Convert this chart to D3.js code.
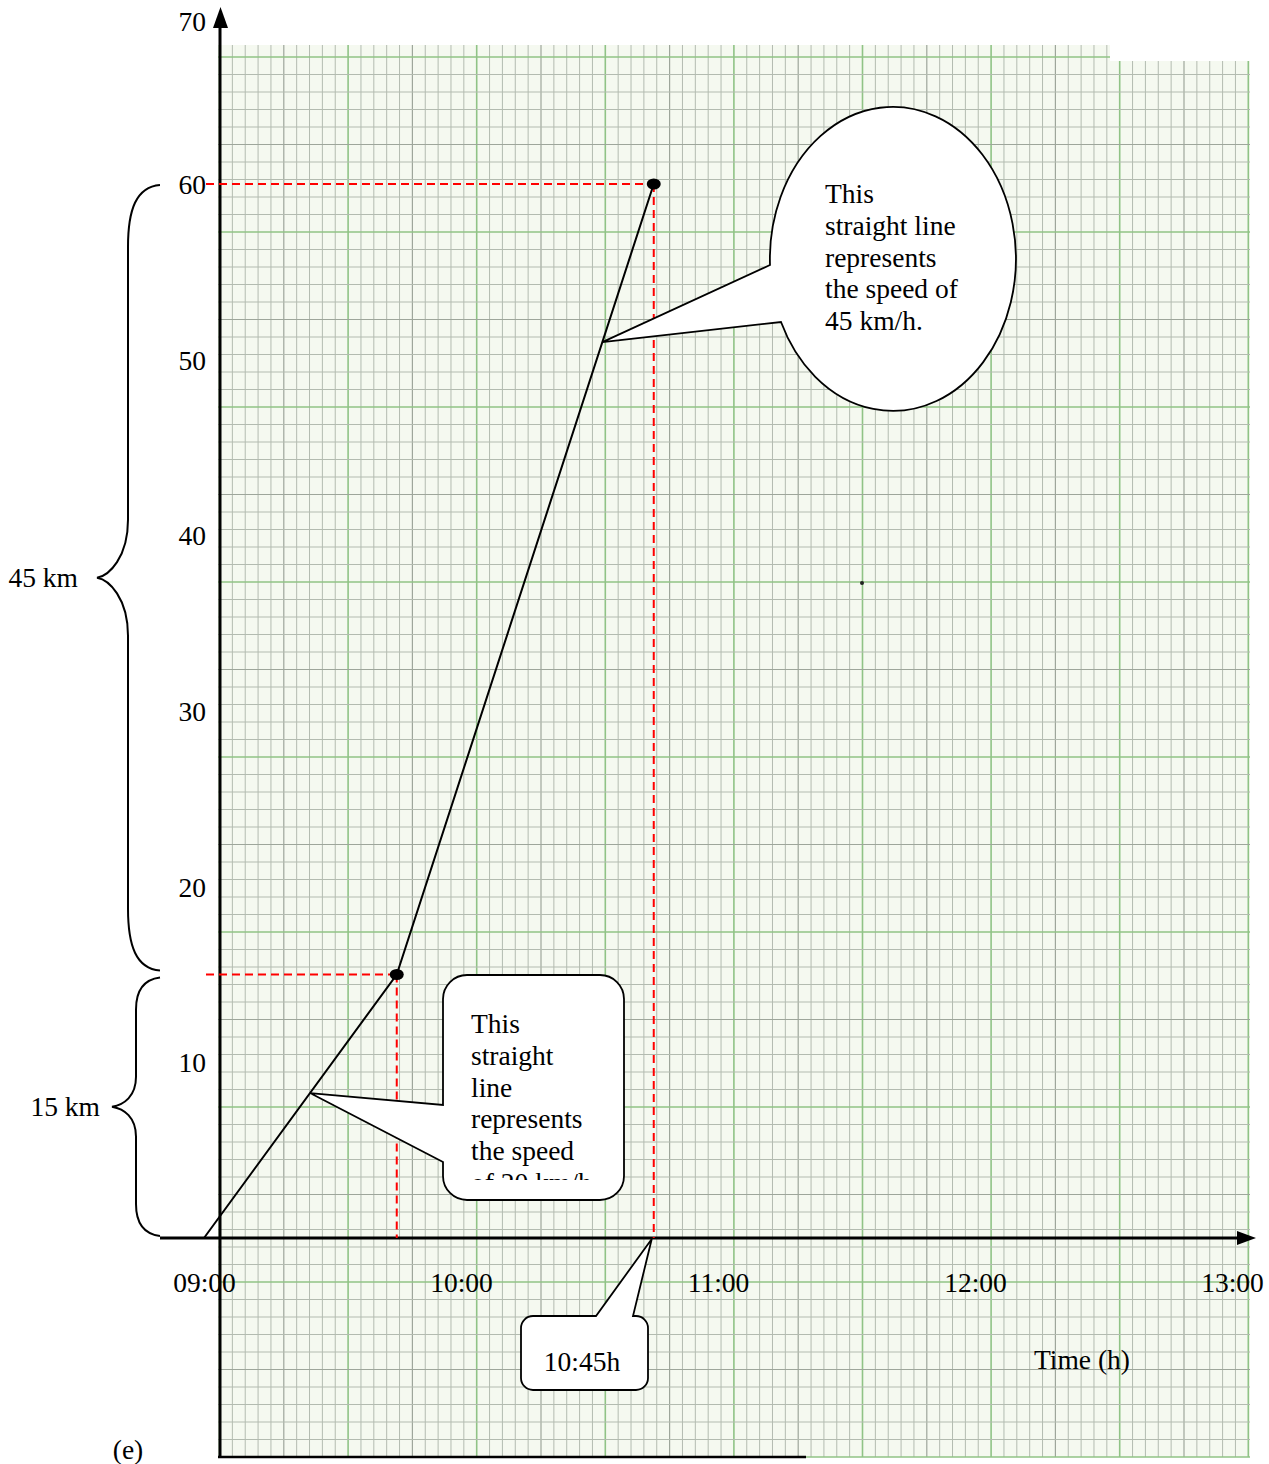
<!DOCTYPE html>
<html>
<head>
<meta charset="utf-8">
<script src="https://cdn.jsdelivr.net/npm/d3@7"></script>
<style>
body { margin: 0; background: #fff; }
svg { display: block; font-family: "Liberation Serif", "Times New Roman", serif; }
</style>
</head>
<body>
<svg id="chart"></svg>
<script>
let width = 1269;
let height = 1464;
let fontSize = 27.5;

// journey: time of day in hours, distance in km
let times = [9, 9.75, 10.75];
let distances = [0, 15, 60];
let marked = [1, 2];

let hourTicks = [9, 10, 11, 12, 13];
let hourLabels = ["09:00", "10:00", "11:00", "12:00", "13:00"];
let kmTicks = [10, 20, 30, 40, 50, 60, 70];

let braceSpans = [[15, 60], [0, 15]];
let braceLabels = ["45 km", "15 km"];

let note45 = ["This", "straight line", "represents", "the speed of", "45 km/h."];
let note20 = ["This", "straight", "line", "represents", "the speed", "of 20 km/h"];
let noteTime = "10:45h";

let xScale = d3.scaleLinear().domain([9, 13]).range([204, 1232]);
let yScale = d3.scaleLinear().domain([0, 60]).range([1238, 184]);

let pts = times.map((t, i) => [xScale(t), yScale(distances[i])]);
let lerp = (a, b, f) => [a[0] + (b[0] - a[0]) * f, a[1] + (b[1] - a[1]) * f];

let svg = d3.select("#chart")
            .attr("width", width)
            .attr("height", height)

// ---- graph paper ----
let paper = svg.append("g");
let px0 = 218, px1 = 1250, py0 = 45, py1 = 1457;
paper.append("rect")
    .attr("x", px0).attr("y", py0)
    .attr("width", px1 - px0).attr("height", py1 - py0)
    .attr("fill", "#f5f9f0")

let lineStyle = k => k % 10 == 0 ? ["#90c386", 1.6] : (k % 5 == 0 ? ["#9ea69b", 1.2] : ["#b3bbb0", 1]);

d3.range(0, 81).forEach(k => {
    let x = 219.5 + k * 12.86;
    if (x > px1) return;
    let s = lineStyle(k);
    paper.append("line")
        .attr("x1", x).attr("x2", x).attr("y1", py0).attr("y2", py1)
        .attr("stroke", s[0]).attr("stroke-width", s[1])
})
d3.range(0, 81).forEach(k => {
    let y = 57 + k * 17.5;
    let s = lineStyle(k);
    paper.append("line")
        .attr("x1", px0).attr("x2", px1).attr("y1", y).attr("y2", y)
        .attr("stroke", s[0]).attr("stroke-width", s[1])
})
// torn corner at top right of the sheet
paper.append("rect")
    .attr("x", 1110).attr("y", 40).attr("width", 150).attr("height", 21)
    .attr("fill", "#fff")
paper.append("circle").attr("cx", 862).attr("cy", 583).attr("r", 2).attr("fill", "#222")
paper.append("line")
    .attr("x1", 218).attr("x2", 806).attr("y1", 1457).attr("y2", 1457)
    .attr("stroke", "#000").attr("stroke-width", 2.5)

// ---- axes ----
svg.append("line")
    .attr("x1", 220).attr("x2", 220).attr("y1", 22).attr("y2", 1457)
    .attr("stroke", "#000").attr("stroke-width", 3)
svg.append("path")
    .attr("d", "M220.5,7 L213,28 L228,28 Z")
    .attr("fill", "#000")
svg.append("line")
    .attr("x1", 160).attr("x2", 1242).attr("y1", 1238).attr("y2", 1238)
    .attr("stroke", "#000").attr("stroke-width", 3)
svg.append("path")
    .attr("d", "M1256,1238 L1237,1231 L1237,1245 Z")
    .attr("fill", "#000")

let yAxis = d3.axisLeft(yScale)
                .tickValues(kmTicks)
                .tickSize(0)
                .tickPadding(0)

let gy = svg.append("g")
    .attr("transform", "translate(206, 0)")
    .call(yAxis)
gy.select(".domain").remove()
gy.selectAll("text")
    .attr("font-family", "Liberation Serif")
    .attr("font-size", fontSize)
    .attr("fill", "#000")
    .attr("dy", d => d == 70 ? "0.82em" : "0.34em")

let xAxis = d3.axisBottom(xScale)
                .tickValues(hourTicks)
                .tickFormat((d, i) => hourLabels[i])
                .tickSize(0)
                .tickPadding(34)

let gx = svg.append("g")
    .attr("transform", "translate(0, 1238)")
    .call(xAxis)
gx.select(".domain").remove()
gx.selectAll("text")
    .attr("font-family", "Liberation Serif")
    .attr("font-size", fontSize)
    .attr("fill", "#000")

svg.append("text")
    .attr("x", 1034).attr("y", 1369)
    .attr("font-size", fontSize)
    .text("Time (h)")

svg.append("text")
    .attr("x", 128).attr("y", 1459)
    .attr("text-anchor", "middle")
    .attr("font-size", fontSize)
    .text("(e)")

// ---- red guides ----
marked.forEach(i => {
    svg.append("line")
        .attr("x1", 206).attr("x2", pts[i][0])
        .attr("y1", pts[i][1]).attr("y2", pts[i][1])
        .attr("stroke", "#f00").attr("stroke-width", 2)
        .attr("stroke-dasharray", "8,5")
    svg.append("line")
        .attr("x1", pts[i][0]).attr("x2", pts[i][0])
        .attr("y1", pts[i][1]).attr("y2", 1238)
        .attr("stroke", "#f00").attr("stroke-width", 2)
        .attr("stroke-dasharray", "8,5")
})

// ---- distance-time line ----
svg.append("path")
    .datum(pts)
    .attr("d", d3.line())
    .attr("fill", "none")
    .attr("stroke", "#000")
    .attr("stroke-width", 2)

svg.selectAll(".dot")
    .data(marked)
    .enter()
    .append("ellipse")
    .attr("cx", i => pts[i][0])
    .attr("cy", i => pts[i][1])
    .attr("rx", 7)
    .attr("ry", 5.5)
    .attr("fill", "#000")

// ---- braces ----
function bracePath(y0, y1, xTip, xSpine, xPoint, r, m) {
    let ym = (y0 + y1) / 2;
    let p = d3.path();
    p.moveTo(xTip, y0);
    p.bezierCurveTo(xSpine + 8, y0 + 2, xSpine, y0 + r * 0.4, xSpine, y0 + r);
    p.lineTo(xSpine, ym - m);
    p.bezierCurveTo(xSpine, ym - m * 0.35, xPoint + 12, ym - 2, xPoint, ym);
    p.bezierCurveTo(xPoint + 12, ym + 2, xSpine, ym + m * 0.35, xSpine, ym + m);
    p.lineTo(xSpine, y1 - r);
    p.bezierCurveTo(xSpine, y1 - r * 0.4, xSpine + 8, y1 - 2, xTip, y1);
    return p.toString();
}

let braceGeom = [[160, 128, 97, 62, 58], [160, 136, 112, 32, 30]];
braceSpans.forEach((s, i) => {
    let g = braceGeom[i];
    let y0 = yScale(s[1]) + (i == 1 ? 3 : 1);
    let y1 = yScale(s[0]) - (i == 0 ? 4 : 2);
    svg.append("path")
        .attr("d", bracePath(y0, y1, g[0], g[1], g[2], g[3], g[4]))
        .attr("fill", "none")
        .attr("stroke", "#000")
        .attr("stroke-width", 2)
    svg.append("text")
        .attr("x", g[2] - (i == 0 ? 19 : 12))
        .attr("y", (y0 + y1) / 2 + 9)
        .attr("text-anchor", "end")
        .attr("font-size", fontSize)
        .text(braceLabels[i])
})

// ---- callout: oval, 45 km/h ----
let tip1 = lerp(pts[1], pts[2], 0.8);
svg.append("path")
    .attr("d", "M770,265 L" + tip1[0] + "," + tip1[1] + " L781,322 A123,152 0 1 0 770,265 Z")
    .attr("fill", "#fff")
    .attr("stroke", "#000")
    .attr("stroke-width", 1.8)

svg.append("g").selectAll("text")
    .data(note45)
    .enter()
    .append("text")
    .attr("x", 825)
    .attr("y", (d, i) => 203 + i * 31.75)
    .attr("font-size", fontSize)
    .text(d => d)

// ---- callout: rounded box, 20 km/h ----
function boxLeftTail(x, y, w, h, r, a1, a2, tip) {
    let p = d3.path();
    p.moveTo(x + r, y);
    p.arcTo(x + w, y, x + w, y + h, r);
    p.arcTo(x + w, y + h, x, y + h, r);
    p.arcTo(x, y + h, x, y, r);
    p.lineTo(x, a2);
    p.lineTo(tip[0], tip[1]);
    p.lineTo(x, a1);
    p.arcTo(x, y, x + w, y, r);
    p.closePath();
    return p.toString();
}

function boxTopTail(x, y, w, h, r, a1, a2, tip) {
    let p = d3.path();
    p.moveTo(x + r, y);
    p.lineTo(a1, y);
    p.lineTo(tip[0], tip[1]);
    p.lineTo(a2, y);
    p.arcTo(x + w, y, x + w, y + h, r);
    p.arcTo(x + w, y + h, x, y + h, r);
    p.arcTo(x, y + h, x, y, r);
    p.arcTo(x, y, x + w, y, r);
    p.closePath();
    return p.toString();
}

let tip2 = lerp(pts[0], pts[1], 0.55);
svg.append("path")
    .attr("d", boxLeftTail(443, 975, 181, 225, 24, 1105, 1162, tip2))
    .attr("fill", "#fff")
    .attr("stroke", "#000")
    .attr("stroke-width", 1.8)

svg.append("clipPath")
    .attr("id", "clip20")
    .append("rect")
    .attr("x", 443).attr("y", 975).attr("width", 181).attr("height", 205)

svg.append("g")
    .attr("clip-path", "url(#clip20)")
    .selectAll("text")
    .data(note20)
    .enter()
    .append("text")
    .attr("x", 471)
    .attr("y", (d, i) => 1033 + i * 31.75)
    .attr("font-size", fontSize)
    .text(d => d)

// ---- callout: time of arrival ----
let tip3 = [xScale(times[2]) - 2, 1239];
svg.append("path")
    .attr("d", boxTopTail(521, 1316, 127, 74, 12, 596, 633, tip3))
    .attr("fill", "#fff")
    .attr("stroke", "#000")
    .attr("stroke-width", 1.8)

svg.append("text")
    .attr("x", 582).attr("y", 1371)
    .attr("text-anchor", "middle")
    .attr("font-size", fontSize)
    .text(noteTime)
</script>
</body>
</html>
